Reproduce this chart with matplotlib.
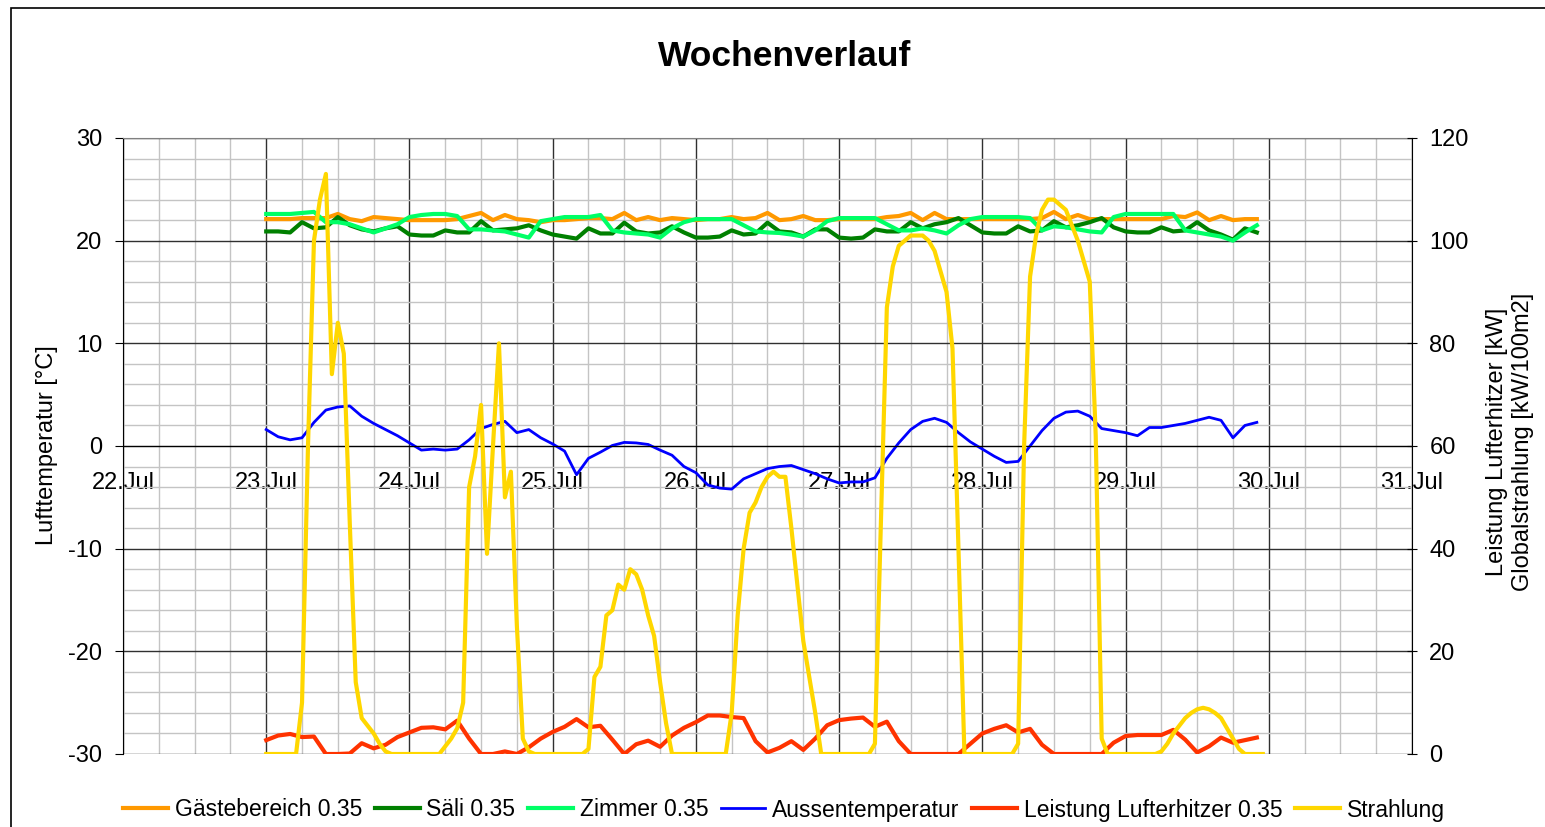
import numpy as np
import matplotlib
matplotlib.use("Agg")
import matplotlib.pyplot as plt
from matplotlib.patches import Rectangle

plt.rcParams['font.family'] = ['Liberation Sans', 'DejaVu Sans']
plt.rcParams['axes.unicode_minus'] = False

# Axis labels for days (x = days after 22.Jul 00:00)
day_labels = ["22.Jul", "23.Jul", "24.Jul", "25.Jul", "26.Jul",
              "27.Jul", "28.Jul", "29.Jul", "30.Jul", "31.Jul"]

# Temperatures [°C] and heater power [kW], one value every 2 h from 23.Jul 00:00
gaeste = [22.1, 22.1, 22.1, 22.2, 22.2, 22.2, 22.6, 22.1, 21.9, 22.3, 22.2, 22.1,
          22.0, 22.0, 22.0, 22.0, 22.1, 22.4, 22.7, 22.0, 22.5, 22.1, 22.0, 21.8,
          22.0, 22.0, 22.1, 22.2, 22.2, 22.1, 22.7, 22.0, 22.3, 22.0, 22.2, 22.1,
          22.0, 22.1, 22.1, 22.3, 22.1, 22.2, 22.7, 22.0, 22.1, 22.4, 22.0, 22.0,
          22.1, 22.1, 22.1, 22.1, 22.3, 22.4, 22.7, 22.0, 22.7, 22.1, 22.1, 22.1,
          22.1, 22.1, 22.1, 22.1, 22.1, 22.2, 22.8, 22.1, 22.5, 22.1, 22.1, 22.1,
          22.1, 22.1, 22.1, 22.1, 22.4, 22.3, 22.75, 22.0, 22.4, 22.0, 22.1, 22.1]

saeli = [20.9, 20.9, 20.8, 21.8, 21.2, 21.3, 22.3, 21.5, 21.1, 20.9, 21.2, 21.4,
         20.6, 20.5, 20.5, 21.0, 20.8, 20.8, 21.9, 21.0, 21.1, 21.2, 21.5, 21.0,
         20.6, 20.4, 20.2, 21.2, 20.7, 20.7, 21.75, 20.9, 20.7, 20.8, 21.4, 20.8,
         20.3, 20.3, 20.4, 21.0, 20.6, 20.7, 21.75, 20.9, 20.8, 20.4, 21.1, 21.1,
         20.3, 20.2, 20.3, 21.1, 20.9, 20.9, 21.8, 21.2, 21.6, 21.8, 22.2, 21.5,
         20.8, 20.7, 20.7, 21.4, 20.9, 21.0, 21.9, 21.3, 21.5, 21.8, 22.2, 21.3,
         20.9, 20.8, 20.8, 21.3, 20.9, 21.0, 21.8, 21.0, 20.6, 20.1, 21.2, 20.8]

zimmer = [22.6, 22.6, 22.6, 22.7, 22.8, 21.8, 21.8, 21.6, 21.2, 20.8, 21.2, 21.6,
          22.3, 22.5, 22.6, 22.6, 22.4, 21.1, 21.1, 21.0, 20.9, 20.6, 20.3, 21.9,
          22.1, 22.3, 22.3, 22.3, 22.5, 21.0, 20.8, 20.7, 20.6, 20.3, 21.2, 21.8,
          22.1, 22.1, 22.1, 22.1, 21.5, 20.9, 20.8, 20.75, 20.6, 20.4, 21.0, 21.9,
          22.2, 22.2, 22.2, 22.2, 21.6, 21.0, 21.0, 21.2, 21.0, 20.7, 21.5, 22.1,
          22.3, 22.3, 22.3, 22.3, 22.2, 21.0, 21.4, 21.3, 21.1, 20.9, 20.8, 22.3,
          22.6, 22.6, 22.6, 22.6, 22.6, 21.0, 20.8, 20.6, 20.4, 20.0, 20.8, 21.5]

aussen = [1.6, 0.9, 0.6, 0.8, 2.3, 3.5, 3.8, 3.9, 2.9, 2.2, 1.6, 1.0,
          0.3, -0.4, -0.3, -0.4, -0.3, 0.6, 1.7, 2.1, 2.4, 1.3, 1.6, 0.8,
          0.2, -0.5, -2.8, -1.2, -0.6, 0.05, 0.35, 0.3, 0.15, -0.4, -0.9, -2.0,
          -2.6, -3.8, -4.1, -4.2, -3.2, -2.7, -2.2, -2.0, -1.9, -2.3, -2.7, -3.2,
          -3.6, -3.5, -3.5, -3.1, -1.2, 0.3, 1.6, 2.4, 2.7, 2.3, 1.3, 0.4,
          -0.3, -1.0, -1.6, -1.5, 0.0, 1.5, 2.7, 3.3, 3.4, 2.9, 1.7, 1.5,
          1.3, 1.0, 1.8, 1.8, 2.0, 2.2, 2.5, 2.8, 2.5, 0.8, 2.0, 2.3]

leistung = [2.7, 3.6, 3.9, 3.3, 3.4, 0.0, 0.0, 0.1, 2.1, 1.1, 1.8, 3.3,
            4.2, 5.1, 5.2, 4.8, 6.5, 3.0, 0.0, 0.0, 0.5, 0.0, 1.3, 3.0,
            4.3, 5.3, 6.8, 5.2, 5.5, 2.8, 0.0, 1.9, 2.6, 1.4, 3.6, 5.1,
            6.2, 7.5, 7.5, 7.2, 7.0, 2.5, 0.3, 1.2, 2.5, 0.8, 3.0, 5.6,
            6.6, 6.9, 7.1, 5.3, 6.3, 2.5, 0.0, 0.0, 0.0, 0.0, 0.0, 2.0,
            4.0, 4.9, 5.6, 4.2, 4.9, 1.8, 0.0, 0.0, 0.0, 0.0, 0.0, 2.2,
            3.5, 3.7, 3.7, 3.7, 4.7, 2.8, 0.3, 1.5, 3.2, 2.2, 2.7, 3.2]

# Global radiation [kW/100m2], hourly from 23.Jul 00:00
strahlung = [0, 0, 0, 0, 0, 0, 10, 60, 100, 108, 113, 74, 84, 78, 45, 14, 7, 5.5, 4, 2, 0.5, 0, 0, 0,
             0, 0, 0, 0, 0, 0, 1.5, 3, 5, 10, 52, 58, 68, 39, 60, 80, 50, 55, 25, 3, 0.5, 0, 0, 0,
             0, 0, 0, 0, 0, 0, 1, 15, 17, 27, 28, 33, 32, 36, 35, 32, 27, 23, 14, 6, 0, 0, 0, 0,
             0, 0, 0, 0, 0, 0, 8, 27, 40, 47, 49, 52, 54, 55, 54, 54, 44, 33, 22, 15, 8, 0, 0, 0,
             0, 0, 0, 0, 0, 0, 2, 45, 87, 95, 99, 100, 101, 101, 101, 100, 98, 94, 90, 79, 40, 0, 0, 0,
             0, 0, 0, 0, 0, 0, 2, 60, 93, 101, 106, 108, 108, 107, 106, 103, 100, 96, 92, 62, 3, 0, 0, 0,
             0, 0, 0, 0, 0, 0, 0.5, 2, 4, 5.5, 7, 8, 8.7, 9, 8.7, 8, 7, 5, 3, 1, 0, 0, 0, 0]

# time axes in days after 22.Jul 00:00
t2 = 1 + np.arange(len(gaeste)) * 2 / 24
t1 = 1 + np.arange(len(strahlung)) / 24

W, H = 1545, 827
fig = plt.figure(figsize=(W / 100, H / 100), dpi=100)
ax = fig.add_axes([123 / W, 1 - 754 / H, (1412 - 123) / W, (754 - 138) / H])

lw = 3
ax.plot(t2, gaeste, color='#FF9900', lw=lw, label='Gästebereich 0.35')
ax.plot(t2, saeli, color='#008000', lw=lw, label='Säli 0.35')
ax.plot(t2, zimmer, color='#00FF66', lw=lw, label='Zimmer 0.35')
ax.plot(t2, aussen, color='#0000FF', lw=2, label='Aussentemperatur')

ax2 = ax.twinx()
ax2.plot(t2, leistung, color='#FF3300', lw=lw, label='Leistung Lufterhitzer 0.35')
ax2.plot(t1, strahlung, color='#FFD700', lw=lw, label='Strahlung')

# axes ranges and ticks
ax.set_xlim(0, 9)
ax.set_ylim(-30, 30)
ax2.set_ylim(0, 120)
ax.set_xticks(range(len(day_labels)))
ax.set_xticklabels(day_labels)
ax.set_xticks(np.arange(0, 9.01, 0.25), minor=True)
ax.set_yticks(range(-30, 31, 10))
ax.set_yticks(range(-30, 31, 2), minor=True)
ax2.set_yticks(range(0, 121, 20))

ax.grid(which='major', color='#303030', lw=1)
ax.grid(which='minor', color='#C4C4C4', lw=1)
ax.set_axisbelow(True)

ax.tick_params(axis='x', which='both', length=0, pad=19, labelsize=17)
ax.tick_params(axis='y', which='major', length=6, direction='out', pad=9, labelsize=17)
ax.tick_params(axis='y', which='minor', length=0)
ax2.tick_params(axis='y', which='major', length=7, direction='inout', pad=9, labelsize=17)

ax.spines['bottom'].set_position(('data', 0))
ax.spines['bottom'].set_color('black')
ax.spines['top'].set_color('#808080')
ax.spines['right'].set_visible(False)
ax.spines['left'].set_color('black')
for s in ['left', 'top', 'bottom']:
    ax2.spines[s].set_visible(False)
ax2.spines['right'].set_color('black')

# titles and axis labels
fig.text(785 / W, 1 - 56 / H, 'Wochenverlauf', ha='center', va='center',
         fontsize=25.5, fontweight='bold')
fig.text(47 / W, 1 - 445 / H, 'Lufttemperatur [°C]', rotation=90,
         ha='center', va='center', fontsize=17)
fig.text(1510 / W, 1 - 442 / H, 'Leistung Lufterhitzer [kW]\nGlobalstrahlung [kW/100m2]',
         rotation=90, ha='center', va='center', fontsize=17, multialignment='center')

# legend
h1, l1 = ax.get_legend_handles_labels()
h2, l2 = ax2.get_legend_handles_labels()
fig.legend(h1 + h2, l1 + l2, loc='center', bbox_to_anchor=(784 / W, 1 - 810 / H),
           ncol=6, frameon=False, fontsize=16.5, handlelength=1.95,
           handletextpad=0.3, columnspacing=0.55)

# chart area border
fig.patches.append(Rectangle((11 / W, -0.1), 1.2, 1.1 - 8 / H, transform=fig.transFigure,
                             fill=False, edgecolor='black', lw=1.2))

fig.savefig('out.png', dpi=100)
